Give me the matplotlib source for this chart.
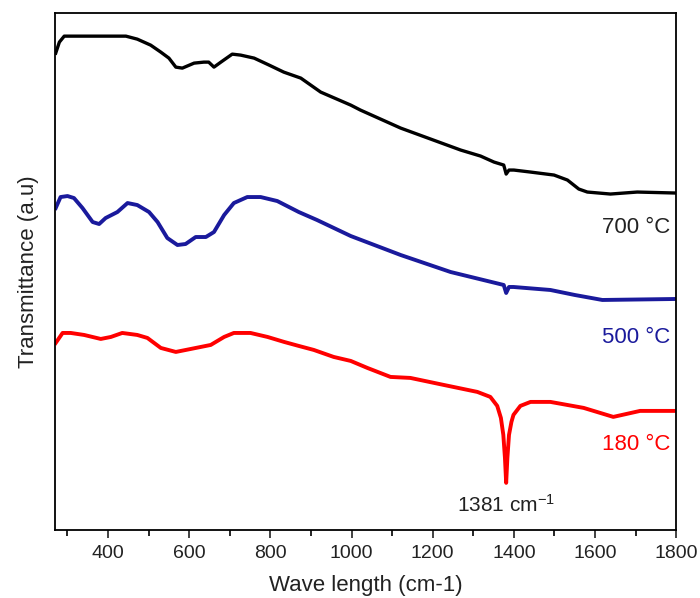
import matplotlib.pyplot as plt
from matplotlib.ticker import MultipleLocator

plt.rcParams['font.family'] = ['Liberation Sans', 'DejaVu Sans']
plt.rcParams['mathtext.default'] = 'regular'

# FTIR spectra, transmittance in arbitrary units (curves are stacked)
wn_700 = [271, 280, 292, 308, 382, 444, 472, 505, 530, 550, 567, 583, 612, 636,
          648, 661, 678, 706, 727, 760, 797, 833, 875, 924, 998, 1022, 1121,
          1269, 1318, 1351, 1375, 1381, 1388, 1400, 1441, 1499, 1532, 1560,
          1581, 1638, 1704, 1800]
t_700 = [477, 488, 494, 494, 494, 494, 491, 485, 478, 472, 463, 462, 467, 468,
         468, 463, 468, 476, 475, 472, 465, 458, 452, 438, 425, 420, 402,
         380, 374, 368, 365, 356, 360, 360, 358, 355, 350, 341,
         338, 336, 338, 337]

wn_500 = [271, 283, 300, 316, 337, 362, 378, 394, 423, 448, 472, 501, 522, 546,
          571, 591, 616, 641, 661, 686, 710, 743, 776, 817, 870, 915, 998, 1121,
          1244, 1375, 1381, 1388, 1399, 1490, 1550, 1618, 1800]
t_500 = [322, 333, 334, 332, 322, 308, 306, 312, 318, 327, 325, 318, 308, 292,
         285, 286, 293, 293, 298, 315, 327, 333, 333, 329, 318, 310, 294, 275,
         258, 245, 237, 243, 243, 240, 235, 230, 231]

wn_180 = [271, 288, 308, 341, 382, 407, 435, 472, 497, 530, 567, 604, 653, 686,
          710, 751, 793, 834, 870, 907, 956, 998, 1039, 1096, 1145, 1227, 1310,
          1342, 1359, 1368, 1374, 1378, 1381, 1384, 1388, 1394, 1399, 1416, 1441,
          1490, 1572, 1645, 1711, 1800]
t_180 = [187, 197, 197, 195, 191, 193, 197, 195, 192, 182, 178, 181, 185, 193,
         197, 197, 193, 188, 184, 180, 173, 169, 162, 153, 152, 145, 138,
         133, 124, 112, 95, 72, 47, 72, 95, 108, 115, 124, 128,
         128, 122, 113, 119, 119]

peak_wn = 1381

fig = plt.figure(figsize=(7.0, 5.98), dpi=100)
ax = fig.add_axes([0.079, 0.114, 0.887, 0.864])

navy = '#1a1a9c'
ax.plot(wn_700, t_700, color='black', lw=2.4, solid_joinstyle='round')
ax.plot(wn_500, t_500, color=navy, lw=2.8, solid_joinstyle='round')
ax.plot(wn_180, t_180, color='#ff0000', lw=2.8, solid_joinstyle='round')

ax.text(1786, 303, '700 °C', color='#222222', fontsize=16, ha='right', va='center')
ax.text(1786, 192, '500 °C', color=navy, fontsize=16, ha='right', va='center')
ax.text(1786, 85, '180 °C', color='#ff0000', fontsize=16, ha='right', va='center')
ax.text(peak_wn, 25, '%d cm$^{-1}$' % peak_wn, color='#222222', fontsize=15,
        ha='center', va='center')

ax.set_xlim(270, 1800)
ax.set_ylim(0, 517)
ax.xaxis.set_major_locator(MultipleLocator(200))
ax.xaxis.set_minor_locator(MultipleLocator(100))
ax.set_yticks([])
ax.tick_params(axis='x', which='major', direction='out', length=6, width=1.2,
               labelsize=14, pad=5, colors='#222222')
ax.tick_params(axis='x', which='minor', direction='out', length=4, width=1.2)
for s in ax.spines.values():
    s.set_linewidth(1.3)

ax.set_xlabel('Wave length (cm-1)', fontsize=16, labelpad=9, color='#222222')
ax.set_ylabel('Transmittance (a.u)', fontsize=16, labelpad=12, color='#222222')

fig.savefig('out.png', dpi=100)
